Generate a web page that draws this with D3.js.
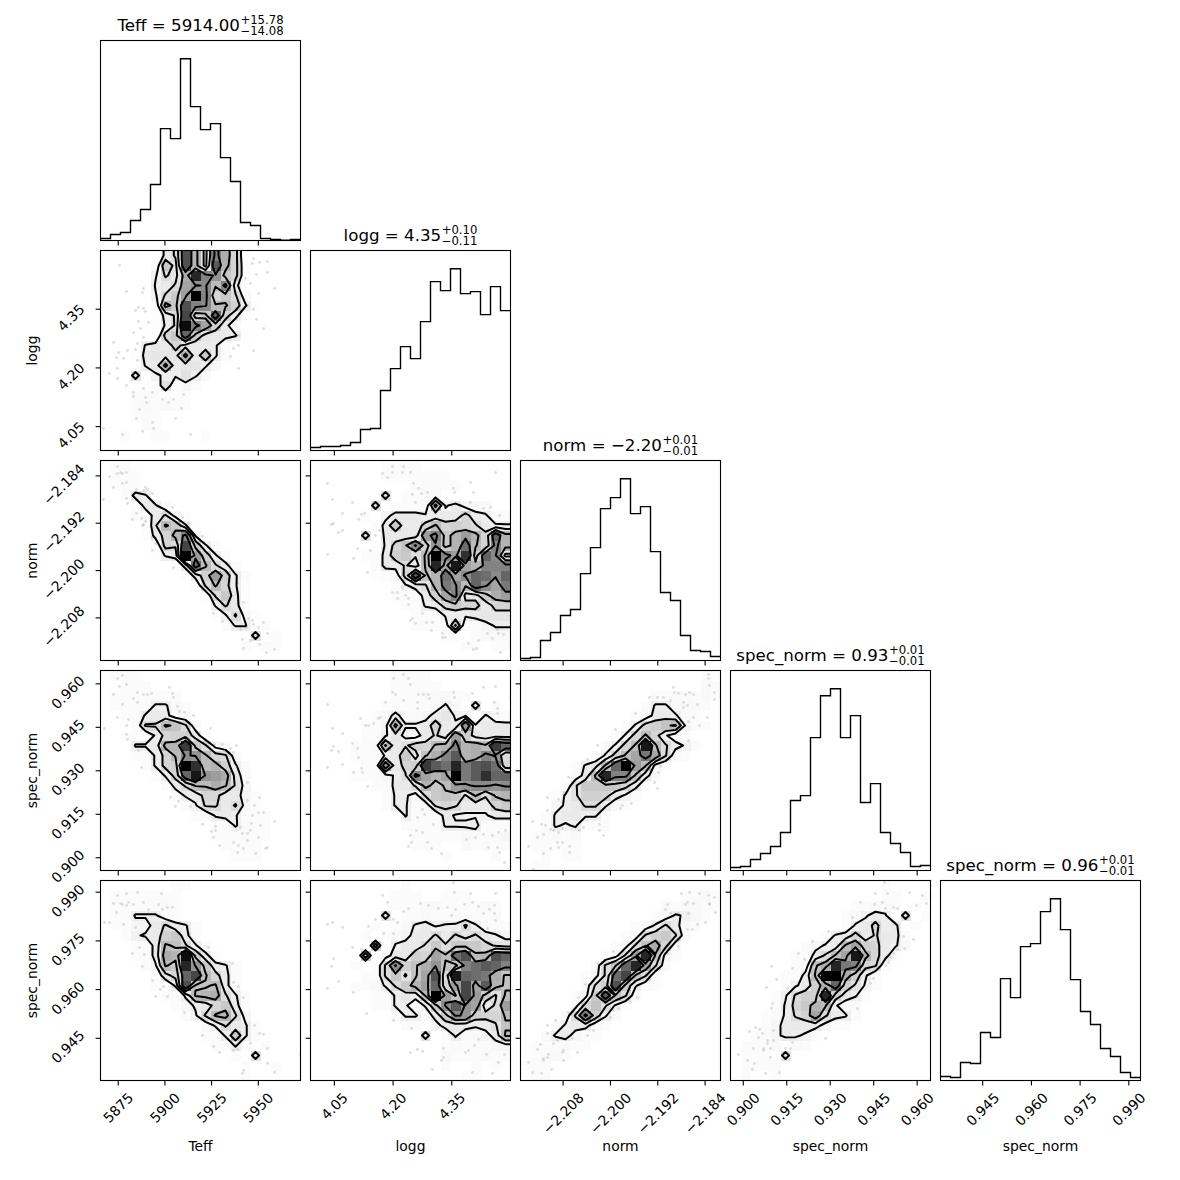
<!DOCTYPE html>
<html>
<head>
<meta charset="utf-8">
<script src="https://cdn.jsdelivr.net/npm/d3@7"></script>
<style>
html,body{margin:0;padding:0;background:#fff}
svg{display:block}
text{font-family:"DejaVu Sans",sans-serif;fill:#000}
</style>
</head>
<body>
<svg id="chart" width="1180" height="1180"></svg>
<script>
// ---- axis definitions
const axisNames = ["Teff","logg","norm","spec_norm","spec_norm"];
const axisLo = [5865.5,3.989,-2.2152,0.8956,0.932];
const axisHi = [5972.6,4.500,-2.1814,0.9646,0.9936];
const ticksTeff = [5875,5900,5925,5950];
const ticksLogg = [4.05,4.20,4.35];
const ticksNorm = [-2.208,-2.200,-2.192,-2.184];
const ticksSpecA = [0.900,0.915,0.930,0.945,0.960];
const ticksSpecB = [0.945,0.960,0.975,0.990];
const axisTicks = [ticksTeff,ticksLogg,ticksNorm,ticksSpecA,ticksSpecB];
const axisDecimals = [0,2,3,3,3];

// ---- titles: name, median, plus, minus
const titleMain = ["Teff = 5914.00","logg = 4.35","norm = \u22122.20","spec_norm = 0.93","spec_norm = 0.96"];
const titlePlus = ["+15.78","+0.10","+0.01","+0.01","+0.01"];
const titleMinus = ["\u221214.08","\u22120.11","\u22120.01","\u22120.01","\u22120.01"];

// ---- 1D histograms (20 bins)
const histTeff = [2,6,8,20,31,56,112,102,182,134,111,117,83,59,18,15,2,1,0.3,1];
const histLogg = [3,4,4,5,8,21,22,60,82,104,92,129,169,160,182,157,159,136,164,140];
const histNorm = [2,3,20,28,45,51,87,113,152,163,182,147,154,109,68,60,25,10,9,4];
const histSpecA = [3,4,11,17,24,38,70,75,133,175,182,133,155,68,87,38,27,18,4,5];
const histSpecB = [4,3,18,17,48,43,102,83,134,137,169,182,151,101,69,56,32,24,8,3];
const hists = [histTeff,histLogg,histNorm,histSpecA,histSpecB];

// ---- 2D histograms: each string is one row of bins from the top of the panel,
// each character a relative density in base 36 (z = highest bin)
const contourLevels = [6.5,10.5,15.5,21.5];
const densityMax = 35;

const gridLoggTeff = ["0000008bsh9nic200000","000003e9sh9rhc300000","000006b9iwnlec300000","0000078bjlmgn8200000","000006bekznceb400000","000003hesnmggd720000","0000028btdeqc8200000","0000027bynjd83000000","000002ceqe9887200000","0000788c988730000000","00028999h8e730000000","000078h89974","000a0677a74","000023a353","000333333","000343433","000333","000033","00300330003",""];
const gridNormTeff = ["033","0333","0333","003872","0003873","000348b52","00002age72","000028chn62","000003cbte73","00000278zkd73","000000038pgb83","0000000038dkd73","0000000003bgc72","00000000003be82","000000000007b83","0000000000026b52","00000000000037703","000000000000000a03","0000000000000030330",""];
const gridNormLogg = ["00000003333","00000003333333","000000000034433","0000000a03344","000000a03333h68544","000003058887888c8743","00000038e88cgcdcb877","00000a08888knehkhcqh","00000027cfmdlehpgcnh","00000338debgznkvdqm9","000000388b8gwjxjhnnn","000000234crfhpjmqpmq","00000000368ahomgqmjo","000000003348djn99eik","0000000003378cecc8cc","00000000003337778999","00000000003334g33577","00000000000003303444","00000000000000033033",""];
const gridSpecATeff = ["0333","0033300","03333333","033337743","003378843","0003bbgfb4","003337cdd93","000778hhueb53","000337cgmlgcb4","000037cdzvghd73","0000037cqxlki94","00000038bggiga5","0000000478cc8853","0000000036bb8b53","00000000033787333","00000000000337433","00000000000333433","0000000000003333","0000000000000333",""];
const gridSpecALogg = ["000000003333","0000000033333","0000000033344433","0000000333334740a03","00000034844589660743","00000335h778d87l7888","000003369558b8kd9888","0000334g8accghnhiguq","000033378e9finrhinlb","0000033k8cdurpworspc","000033357anjhjzorvqq","0000003388bhegklmmlm","00000003775befeagbgh","000000037734bcb888ce","00000000073338666688","00000000033337778333","00000000003333344345","00000000003330043433","00000000000003000030",""];
const gridSpecANorm = ["0000000000000000003","00000000000000000043","00000000000003344343","0000000000003774443","000000000003488743","000000000037cdfg633","00000000037cgc743","0000000047cgxgb863","000000037cgjojb43","00000379gqzkg53","0000048gwnnf84","00003aeeeec83","00037addc863","000578bb743","003788773","003767333","033434","033333","003033","033"];
const gridSpecBTeff = ["000000033","03333333","03333343","03377743","033558b873","003678de83","000338gfb73","000338ihye83","000036gewle873","0000039cqtgc83","00000337sffg83","000000337ghib73","00000003578ce83","0000000036bghb5","000000000047b873","0000000000337e73","00000000000337303","000000000000030a0","000000000000003003","000000000000003"];
const gridSpecBLogg = ["0000000003","0000000033300333","0000000033344333343","0000000a03343343334","00000030347867"+"7b7433","000003034588b8b9b875","000000d0788bebeeeca9","00000e0588dcjgpsghsq","0000303bmdfilfenprqn","0000033beafjsbxqpoif","00003347behkqcktjrhf","00000033798gzkftkeag","000000337747emrlj8bk","0000000037748emldccg","000000000330588878af","00000000000a0374458g","00000000000003433355","00000000000004333433","0000000000000300303","00000000000000033"];
const gridSpecBNorm = ["","00000000000000003343","00000000000000434433","0000000000000347643","00000000000347b843","000000000034bdeb4","00000000035bfic4","0000000035bkwf53","00000004bfqwjb4","00000035bptfb3","0000004bdse743","0000035erfb4","000005cfb63","00004bnd73","000478843","00478533","0333433","03443","33300","033"];
const gridSpecBSpecA = ["0000000000000003","00000000000000033003","00000000000033443030","00000000000346870a03","00000000000378c7803","000000000378c8b883","00000003578gjdc874","000000338bgjxhc83","00000034fiwoncb3","00000338gzzid73","00000368diqda63","000036bddwd973","000037cehg743","000347bdjb873","000358888533","003358763","03334043","03330a0","033330","03003"];

// ---- sample points, in fractional histogram bins (column from the left, row from the top)
const ptsLoggTeff = [[1.9,1.5],[4.3,3.8],[4.2,4.2],[2.6,4.1],[3.5,6],[3.8,5.7],[4.3,5.8],[4.5,6.1],[3.8,7.1],[4.8,7.2],[4,7.8],[3.3,8.2],[1.3,9.2],[3.7,9.3],[4.3,8.7],[3.5,9.9],[1.8,10.2],[1.6,10.7],[2.3,10.8],[3.7,11],[2.7,10],[1.7,11.8],[0.9,12.3],[1.7,12.8],[2.6,13.5],[4.3,13.8],[5.2,14.2],[3.3,14.2],[4.5,14.7],[3.3,14.6],[4.6,15.2],[6.8,15.2],[6.2,14.9],[7.3,14.9],[8.3,14.4],[3.9,15.9],[8.1,15.8],[3.6,16.8],[7.5,16.8],[5.2,17.2],[5.3,17.8],[4.2,18.1],[0.3,17.8],[2.2,18.4],[9,18.4],[15.3,10],[13.8,11.8],[13,10.6],[13.3,9.8],[13.8,9.5],[13.8,8.5],[16.3,7.8],[15.6,6.9],[15.3,5.9],[15.8,4.3],[17.4,3.8],[16.7,2.2],[15.6,2.4],[15,3.3],[14.5,2.8],[14.7,5.5],[15.3,0.8],[15.9,1.2],[16.7,1.1],[15.2,1.3]];
const ptsNormTeff = [[1.7,0.6],[0.9,1.6],[1.7,1.3],[2,1.2],[2.2,1.3],[2.6,1.2],[2.2,2.3],[2.6,2.2],[1.3,2.7],[0.3,3.9],[2.6,3.8],[2.7,4.3],[3.2,5.9],[4.1,5.8],[3.6,5.3],[4.3,6.4],[4.2,6.5],[4.5,6.1],[3.6,2.9],[4.3,3],[4.7,2.9],[5.2,3.3],[4.5,2.7],[5.1,7.7],[5.5,8.3],[5.2,9],[7.3,10.7],[7.2,4.7],[8.2,5.7],[8.8,6.3],[10.2,7.6],[11.3,15.3],[12.2,16.1],[13.7,12.3],[14.3,14.2],[14.8,15.8],[15.2,16],[15.3,16.4],[15.8,16.7],[16.3,16.2],[16.7,17.3],[14.2,17.9],[15,18],[15.9,18.4],[14.3,18.8],[17.4,18.9],[16.6,19.2],[14,16.9],[14.6,16.7]];
const ptsNormLogg = [[1.7,2.3],[2.2,3.9],[3.2,5.3],[4.2,4.2],[5.1,5.4],[5.4,5.3],[4.8,5.9],[2.1,6.4],[2.3,6.3],[2.8,7.2],[3.2,7],[4.7,8.8],[1.7,9.4],[4.3,9.8],[6,9],[5.7,11.2],[6.5,7.5],[6.9,7],[7.2,6.5],[7.2,1.3],[8.2,0.6],[9.3,0.6],[7.7,1.7],[8.2,1.2],[9.2,1.2],[10,1.2],[10.3,2.3],[10.8,2.8],[10.5,4.2],[10.2,3.4],[11.1,3.3],[11.7,3.2],[14.3,2.8],[16,2.2],[16.3,3.2],[14.4,3.2],[18.5,1.2],[16,4.2],[17.3,4.8],[18,4.7],[18.9,5.5],[8.2,13.2],[8.7,13.2],[8.7,13.8],[9.5,13.5],[9.8,13.8],[9.8,14.4],[9.2,12.7],[11.2,15.3],[10.2,15.8],[10,16],[10.5,16.3],[11.6,16.2],[12.2,16.2],[12.1,17],[13.2,17.3],[13.2,17.7],[13.5,17.7],[15.8,18.3],[16.3,18.9],[16.6,18.8],[16.8,18],[17.7,17.3],[18.7,16.9],[18.8,17.3],[19.3,17.4],[18.2,17.8],[19,19.2]];
const ptsSpecATeff = [[2.2,0.5],[1.7,0.8],[1.9,1.6],[2.6,1.4],[1.3,2.4],[2.2,3.4],[3.3,2.8],[3.7,3.2],[3.7,2.2],[4.3,2.4],[4.7,2.4],[5.1,2.3],[6.9,1.7],[7.2,2.3],[7.3,2.7],[6.6,4],[7.7,3.6],[7.9,4.1],[8.4,4.2],[9.3,4.5],[2.8,4.9],[1.7,4.7],[0.4,5.8],[2.6,5.5],[2.6,6.4],[2.7,6.9],[3.8,8],[4.1,9.7],[5.3,8.9],[11,5.8],[7,12.7],[7.8,13.1],[7.5,13.6],[9,13.6],[10.2,15.4],[11.5,15.6],[11.1,16.1],[11.5,16],[11.3,16.7],[11.9,17.5],[12.2,7.4],[11.4,7.4],[13.6,7.5],[13,7.8],[13.3,8.2],[12.9,8.9],[14.7,11.2],[14.7,13],[15.9,12.7],[15.4,13.5],[16.3,14.2],[15.8,14.2],[15.2,14.5],[15.1,15.3],[16,15.5],[17.4,15.1],[14,15.7],[14.2,16.3],[14.7,16.3],[15,16],[13.3,17.2],[13.8,17.5],[14.7,17],[14.3,17.8],[13.7,18.2],[16.7,17.7],[15.5,18.3],[16.5,17.8],[15.8,16.7]];
const ptsSpecALogg = [[1.7,3.4],[2.2,5.8],[3.2,6.3],[2.3,7.6],[2.1,8],[2.8,8.1],[1.7,9.7],[3.2,9.4],[4.2,7.3],[4.7,7.8],[4.8,8.7],[5.1,9.8],[4.3,10.2],[5.2,10.2],[5.7,11.6],[5,4.8],[5.5,5.5],[5.8,5.5],[6.3,5.3],[6.8,4.8],[7,4.7],[7.5,3.2],[8.3,0.8],[9.3,0.4],[9.8,0.8],[10,1.4],[8.2,2.2],[8.5,2.4],[9.3,3],[10.8,2.4],[11.3,2.4],[11.8,2.4],[11.9,2.8],[10.7,3.2],[10.7,3.8],[14.3,2.2],[14.4,2.7],[16.2,2.3],[17.3,1.7],[18.5,1.6],[18.4,3.2],[18.7,3.8],[18.7,4.3],[20,2.7],[10,16.5],[10.6,16],[11.2,16.2],[10.1,17.2],[9.8,17.6],[11.7,17.2],[12.1,17.8],[13.1,18.3],[12.3,15.4],[10.7,14.7],[11.4,14.4],[11.2,13.9],[18.2,16.5],[18.8,16.2],[19.5,16],[15.6,16.9],[16.5,16.7],[17.3,16.4],[17.8,17.7],[18.7,17.7],[18.9,18.2],[19.4,19.2]];
const ptsSpecANorm = [[18.8,0.4],[18.8,0.8],[18.9,1.5],[19.4,2.2],[19.4,2.9],[16.9,2.2],[17.3,2.4],[16.5,2.4],[15.8,2.3],[15.3,1.7],[15.4,2.2],[15,3],[16.3,3.2],[16.7,3.5],[16.3,3.7],[17.7,3.4],[17.3,4.7],[16.8,5.1],[18.7,4.7],[17.9,5.5],[16.8,7],[13.7,2.7],[14.3,2.7],[12.9,2.7],[11.5,4.3],[9.5,5.9],[7.7,7.5],[6.7,8.9],[4.8,10.7],[4.4,12.2],[3.8,12.9],[2.7,12.7],[2.7,14],[1.2,15.1],[2.1,15.4],[2.5,15.5],[3,15.9],[3.3,16],[4.2,15.8],[3.8,16.2],[1.7,16.7],[2.3,16.4],[6.3,15.7],[5.9,16],[7.9,15.4],[7.9,16],[8.3,16.5],[0.8,17.6],[2.3,18.3],[3,17.8],[3.7,17.2],[4.2,17.2],[3.8,17.7],[4.9,17.6],[4.9,18.2],[1.3,19.9],[10.2,13.5],[10,13.8],[11.1,13.3],[14,9.6],[13.8,10.2],[13.4,11.2],[13.7,11.8]];
const ptsSpecBTeff = [[1.7,1.5],[2.6,1.3],[3.7,1.2],[6.1,1.3],[1.3,2.3],[2,2.3],[2.2,2.4],[2.8,2.2],[3.3,2.4],[2.6,2.5],[1.6,3.2],[2.3,4.4],[0.4,4.2],[0.9,4.2],[3.5,4.7],[3.2,7.3],[3.9,6.7],[4.4,7.4],[4.2,8.6],[5.2,10],[5.5,11.6],[6,10.9],[6.3,10.6],[6.7,11.6],[7.2,10.6],[4.3,2.2],[4.8,2.9],[5.8,2.4],[6.2,2.9],[6.7,2.7],[7.2,2.7],[8.7,4.6],[8.9,5.3],[10.8,6.7],[13.2,8.3],[13.3,10.2],[13.8,10.6],[14.3,11.7],[8.4,13.2],[10.2,15.5],[11.3,16.6],[11.9,17.2],[13.3,17],[13.7,16.9],[15.4,14.5],[15,16.3],[15.9,15.3],[16.3,15.4],[16.7,16.8],[16.7,18.3],[14.3,19],[14.2,19.3],[17.4,19.2],[20,17.4]];
const ptsSpecBLogg = [[1.7,4.4],[2.2,4.2],[3.2,4.7],[4.2,6.7],[5.1,6.9],[2.3,7.8],[2.1,8.6],[2.8,10.1],[1.7,10.8],[4.3,11.2],[5.8,4.6],[6.5,3.9],[7.2,1.5],[7.7,2.2],[8.3,3.9],[8.7,4.2],[9.3,3.1],[9.8,2.8],[11,2.3],[11.8,2.5],[12.8,2.8],[14.4,1.2],[16,1.3],[15.4,2.4],[16.2,2.2],[16.8,2.6],[14.5,2.9],[13.7,2.7],[14.1,3.5],[18.5,1.3],[18.4,2.5],[17.9,2.9],[18.4,3.3],[17.3,3.3],[18.5,4],[17.7,4.8],[7.3,5.3],[8.3,5.3],[5.6,13.3],[8.3,14],[10.1,14.8],[10,17.2],[10.7,16.9],[11.2,17.1],[12.2,18.9],[13.3,16.8],[13.3,17.7],[13.1,18],[15.5,17.2],[15.8,17],[16.4,16.5],[16.8,15.9],[17.6,17.4],[18.8,18.2],[19.4,17.4],[16.2,19.2],[18.2,19.3],[14.3,0.2]];
const ptsSpecBNorm = [[16.1,1.3],[16.9,1.2],[17.9,1.3],[18.8,1.5],[19.4,1.7],[18.9,2.4],[18.9,2.3],[16.7,2.2],[16.5,2.4],[17.3,2.3],[14.7,2.4],[14.5,2.9],[15,3.3],[16.8,3.3],[15.8,3.3],[15.8,5],[16.7,4.9],[17.2,4.9],[17.7,4.4],[18.5,4.2],[19.5,3.2],[15.8,6],[15.8,6.6],[14.7,7.3],[12.8,4.7],[12.3,5.2],[9.3,7.1],[7.7,8.3],[6.5,10.4],[5.8,11.7],[4.8,13.2],[3.5,14],[2.7,14.5],[2.7,15.3],[2,16.4],[1.7,16.9],[2.8,17.4],[2.3,17.8],[2.3,18],[4.3,17],[4.2,17.2],[5.2,15.8],[5.7,17.2],[6.7,15.5],[7.3,15],[0.8,18.2],[1.2,19.2],[2.1,19.3],[3.1,18.9],[4.3,18],[12.8,9.8],[11.7,11.7],[11,12.2],[9.8,12.8],[9.3,13],[9,13.7],[2.7,17.7],[3.3,16.3],[3.7,16]];
const ptsSpecBSpecA = [[15.4,0.2],[14.5,1.3],[15.7,1.3],[17.9,1.2],[19.2,1.5],[13,2.2],[14.4,2.4],[15.2,2.2],[16.3,2.7],[15.5,2.8],[16.7,2.8],[18.6,2.5],[19.6,2.3],[12.2,3.7],[9.8,5.1],[8.2,6.1],[6.8,7.3],[7.4,7.9],[6.2,8.8],[4.6,9.9],[4.1,8.6],[3.6,10.7],[5.7,10.8],[4.2,12.3],[4.1,12.8],[17.3,5.6],[18.3,5.9],[16.7,6.9],[17.4,6.8],[16.3,7.3],[16.1,7.7],[15.8,8.2],[15.5,8.5],[14.3,9.8],[14,10.3],[12.7,12.8],[9.5,15.8],[7.8,13.3],[7.1,15.3],[2.5,14.7],[2.9,14.9],[1.9,15.1],[4.3,15],[3.2,15.3],[2.8,15.7],[3.7,16],[4.3,16],[3.7,16.3],[3.3,16.8],[2.3,16.8],[3.3,17],[4,16.8],[0.8,17.4],[1.7,18],[2.4,18.3],[2.2,18.9],[3.5,19.3],[4.9,19.2],[4,17.7],[5.5,16.8],[6.2,16.2],[6,16.8]];

const panels2d = [
  [1,0,gridLoggTeff,ptsLoggTeff],
  [2,0,gridNormTeff,ptsNormTeff],[2,1,gridNormLogg,ptsNormLogg],
  [3,0,gridSpecATeff,ptsSpecATeff],[3,1,gridSpecALogg,ptsSpecALogg],[3,2,gridSpecANorm,ptsSpecANorm],
  [4,0,gridSpecBTeff,ptsSpecBTeff],[4,1,gridSpecBLogg,ptsSpecBLogg],[4,2,gridSpecBNorm,ptsSpecBNorm],[4,3,gridSpecBSpecA,ptsSpecBSpecA]
];

// ---- layout
const nBins = 20, size = 200;
const colX = i => 100.5 + 210*i;
const rowY = i => 40.5 + 210*i;
const svg = d3.select("#chart");
const root = svg.append("g");
const defs = svg.append("defs");
defs.append("clipPath").attr("id","panelClip").append("rect").attr("width",size).attr("height",size);

const xScale = i => d3.scaleLinear().domain([axisLo[i],axisHi[i]]).range([0,size]);
const yScale = i => d3.scaleLinear().domain([axisLo[i],axisHi[i]]).range([size,0]);
const binW = i => (axisHi[i]-axisLo[i])/nBins;
const fmtTick = i => d => d3.format("."+axisDecimals[i]+"f")(d).replace("-","\u2212");

const TICK = 4.9;
function styleAxis(g){
  g.select(".domain").remove();
  g.selectAll(".tick line").attr("stroke","#000").attr("stroke-width",1.1);
}
function drawXAxis(p,i,labelled){
  const g = p.append("g").attr("transform",`translate(0,${size})`)
    .call(d3.axisBottom(xScale(i)).tickValues(axisTicks[i]).tickSize(TICK).offset(0)
      .tickFormat(labelled?fmtTick(i):()=>""));
  styleAxis(g);
  if(labelled){
    g.selectAll(".tick text").attr("font-size",13.89).attr("fill","#000")
      .style("font-family",'"DejaVu Sans"')
      .attr("text-anchor","middle").attr("dy",null).attr("dominant-baseline","central")
      .each(function(){
        const L = this.getComputedTextLength();
        d3.select(this).attr("y",null).attr("x",null)
          .attr("transform",`translate(0,${9.7+(L+14)*0.3535}) rotate(-45)`);
      });
    p.append("text").attr("x",size/2).attr("y",size+70).attr("text-anchor","middle")
      .attr("font-size",13.89).text(axisNames[i]);
  }
}
function drawYAxis(p,i,labelled){
  const g = p.append("g")
    .call(d3.axisLeft(yScale(i)).tickValues(axisTicks[i]).tickSize(TICK).offset(0)
      .tickFormat(labelled?fmtTick(i):()=>""));
  styleAxis(g);
  if(labelled){
    g.selectAll(".tick text").attr("font-size",13.89).attr("fill","#000")
      .style("font-family",'"DejaVu Sans"')
      .attr("text-anchor","middle").attr("dy",null).attr("dominant-baseline","central")
      .each(function(){
        const L = this.getComputedTextLength();
        d3.select(this).attr("y",null).attr("x",null)
          .attr("transform",`translate(${-(13.7+(L+14)*0.3535)},8.5) rotate(-45)`);
      });
    p.append("text").attr("transform",`translate(-64,${size/2}) rotate(-90)`)
      .attr("text-anchor","middle").attr("font-size",13.89).text(axisNames[i]);
  }
}
function frame(p){
  p.append("rect").attr("width",size).attr("height",size).attr("fill","none")
    .attr("stroke","#000").attr("stroke-width",1.1);
}

// ---- diagonal histograms
hists.forEach((h,i)=>{
  const p = root.append("g").attr("transform",`translate(${colX(i)},${rowY(i)})`);
  const x = xScale(i);
  const y = d3.scaleLinear().domain([0,d3.max(h)*1.1]).range([size,0]);
  const pts = h.map((v,k)=>[axisLo[i]+k*binW(i),v]);
  pts.push([axisHi[i],h[h.length-1]]);
  const line = d3.line().x(d=>x(d[0])).y(d=>y(d[1])).curve(d3.curveStepAfter);
  p.append("g").attr("clip-path","url(#panelClip)").append("path").datum(pts)
    .attr("d",line).attr("fill","none").attr("stroke","#000").attr("stroke-width",1.4);
  frame(p);
  drawXAxis(p,i,i===4);
  // title with stacked scripts
  const t = p.append("g");
  const m = t.append("text").attr("font-size",16.67).attr("y",-9.8).text(titleMain[i]);
  const up = t.append("text").attr("font-size",11.67).attr("y",-16.5).text(titlePlus[i]);
  const dn = t.append("text").attr("font-size",11.67).attr("y",-5.5).text(titleMinus[i]);
  const mW = m.node().getComputedTextLength();
  const sW = Math.max(up.node().getComputedTextLength(),dn.node().getComputedTextLength());
  const start = size/2-(mW+sW+0.5)/2;
  m.attr("x",start); up.attr("x",start+mW+0.5); dn.attr("x",start+mW+0.5);
});

// ---- off-diagonal density panels
panels2d.forEach(([ri,ci,grid,pts])=>{
  const p = root.append("g").attr("transform",`translate(${colX(ci)},${rowY(ri)})`);
  const x = xScale(ci), y = yScale(ri);
  const bx = binW(ci), by = binW(ri);
  const cells = grid.map(r=>Array.from(r.padEnd(nBins,"0").slice(0,nBins),c=>parseInt(c,36)));
  const inner = p.append("g").attr("clip-path","url(#panelClip)");
  // samples
  inner.append("g").selectAll("circle").data(pts).join("circle")
    .attr("cx",d=>x(axisLo[ci]+d[0]*bx)).attr("cy",d=>y(axisHi[ri]-d[1]*by))
    .attr("r",1.45).attr("fill","#000").attr("fill-opacity",0.13);
  // padded grid for contouring
  const pad = 2, n = nBins+2*pad, vals = new Array(n*n);
  for(let r=0;r<n;r++)for(let c=0;c<n;c++){
    const rr = Math.max(0,Math.min(nBins-1,r-pad)), cc = Math.max(0,Math.min(nBins-1,c-pad));
    vals[r*n+c] = cells[rr][cc];
  }
  const contours = d3.contours().size([n,n]).thresholds(contourLevels)(vals);
  const proj = d3.geoPath(d3.geoTransform({point(gx,gy){
    this.stream.point(x(axisLo[ci]+(gx-pad)*bx), y(axisHi[ri]-(gy-pad)*by));
  }}));
  inner.append("path").attr("d",proj(contours[0])).attr("fill","#fff").attr("stroke","none");
  // density cells
  const flat = [];
  cells.forEach((row,r)=>row.forEach((v,c)=>{ if(v>0) flat.push({r,c,v}); }));
  const shade = v => Math.pow(v/densityMax,0.85);
  inner.append("g").attr("shape-rendering","crispEdges").selectAll("rect").data(flat).join("rect")
    .attr("x",d=>x(axisLo[ci]+d.c*bx)).attr("y",d=>y(axisHi[ri]-d.r*by))
    .attr("width",x(axisLo[ci]+bx)-x(axisLo[ci])).attr("height",y(axisHi[ri]-by)-y(axisHi[ri]))
    .attr("fill",d=>{const g=Math.round(255*(1-shade(d.v))); return `rgb(${g},${g},${g})`;})
    .attr("fill-opacity",d=>shade(d.v));
  // contour lines
  inner.append("g").selectAll("path").data(contours).join("path")
    .attr("d",d=>proj(d)).attr("fill","none").attr("stroke","#000")
    .attr("stroke-width",2).attr("stroke-linejoin","round");
  frame(p);
  drawXAxis(p,ci,ri===4);
  drawYAxis(p,ri,ci===0);
});
</script>
</body>
</html>
